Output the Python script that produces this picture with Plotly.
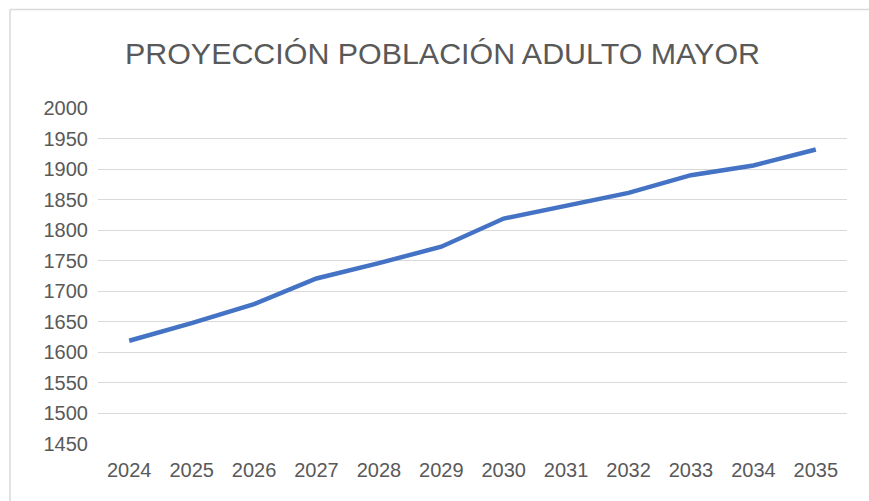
import plotly.graph_objects as go

years = ["2024", "2025", "2026", "2027", "2028", "2029", "2030", "2031", "2032", "2033", "2034", "2035"]
poblacion = [1619, 1648, 1679, 1721, 1746, 1773, 1819, 1840, 1861, 1890, 1906, 1932]
y_ticks = [1450, 1500, 1550, 1600, 1650, 1700, 1750, 1800, 1850, 1900, 1950, 2000]
title_text = "PROYECCIÓN POBLACIÓN ADULTO MAYOR"

W, H = 869, 501
L, R, T, B = 98, 22, 108, 57
pw, ph = W - L - R, H - T - B

font_family = "Liberation Sans, Arial, sans-serif"
text_color = "#595959"
grid_color = "#D9D9D9"

fig = go.Figure()
fig.add_trace(go.Scatter(
    x=years, y=poblacion, mode="lines",
    line=dict(color="#4472C4", width=4.5),
    hoverinfo="x+y",
))

def px_x(p):
    return (p - L) / pw

def px_y(p):
    return (H - B - p) / ph

fig.update_layout(
    width=W, height=H,
    margin=dict(l=L, r=R, t=T, b=B),
    paper_bgcolor="white", plot_bgcolor="white",
    showlegend=False,
    title=dict(text=title_text, x=442.5 / W, xanchor="center", y=1 - 53 / H, yanchor="middle",
               yref="container", xref="container",
               font=dict(family=font_family, size=30.4, color=text_color)),
    font=dict(family=font_family, color=text_color),
    xaxis=dict(type="category", range=[-0.5, len(years) - 0.5], showgrid=False,
               zeroline=False, showline=False, ticks="",
               tickfont=dict(size=20, color=text_color), ticklabelstandoff=12),
    yaxis=dict(range=[1450, 2000], tickvals=y_ticks, showgrid=True, gridcolor=grid_color,
               gridwidth=1.3, zeroline=False, showline=False, ticks="",
               tickfont=dict(size=20, color=text_color), ticklabelstandoff=9),
    shapes=[
        dict(type="line", xref="paper", yref="paper", x0=px_x(10), x1=px_x(W + 5),
             y0=px_y(9.5), y1=px_y(9.5), line=dict(color=grid_color, width=1.5)),
        dict(type="line", xref="paper", yref="paper", x0=px_x(10), x1=px_x(10),
             y0=px_y(9.5), y1=px_y(H + 5), line=dict(color=grid_color, width=1.5)),
    ],
)

fig.write_html(
    "out.html",
    config={"displayModeBar": False},
    post_script="document.body.style.margin='0';document.body.style.overflow='hidden';",
)
